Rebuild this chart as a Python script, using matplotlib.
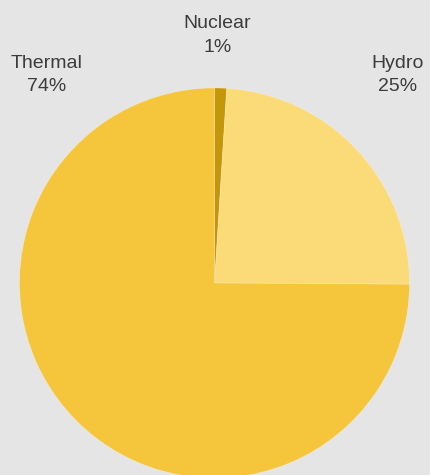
import matplotlib
matplotlib.use("Agg")
import matplotlib.pyplot as plt

# Data
categories = ["Nuclear", "Hydro", "Thermal"]
values = [1.0, 24.1, 74.9]
pct_labels = ["1%", "25%", "74%"]
colors = ["#c4970a", "#fbdb78", "#f5c63b"]

W, H = 430, 475
bg = "#e5e5e5"
fig = plt.figure(figsize=(W / 100, H / 100), dpi=100, facecolor=bg)

cx, cy, r = 214.5, 283.0, 195.0
ax = fig.add_axes([(cx - r) / W, (H - cy - r) / H, 2 * r / W, 2 * r / H])
ax.set_facecolor(bg)
ax.pie(values, colors=colors, startangle=90, counterclock=False, radius=1,
       wedgeprops=dict(edgecolor=(1, 1, 1, 0.3), linewidth=0.5))
ax.set_xlim(-1, 1)
ax.set_ylim(-1, 1)
ax.set_aspect("equal")
ax.axis("off")

# label positions in pixels: (x center, name baseline, pct baseline)
label_pos = {"Nuclear": (217.5, 28, 52), "Hydro": (398, 68, 91), "Thermal": (46.5, 68, 91)}
font = dict(family=["Liberation Sans", "DejaVu Sans"], fontsize=14, color="#3c3c3c")
for cat, pct in zip(categories, pct_labels):
    x, y1, y2 = label_pos[cat]
    fig.text(x / W, 1 - y1 / H, cat, ha="center", va="baseline", **font)
    fig.text(x / W, 1 - y2 / H, pct, ha="center", va="baseline", **font)

fig.savefig("out.png", dpi=100, facecolor=bg)
